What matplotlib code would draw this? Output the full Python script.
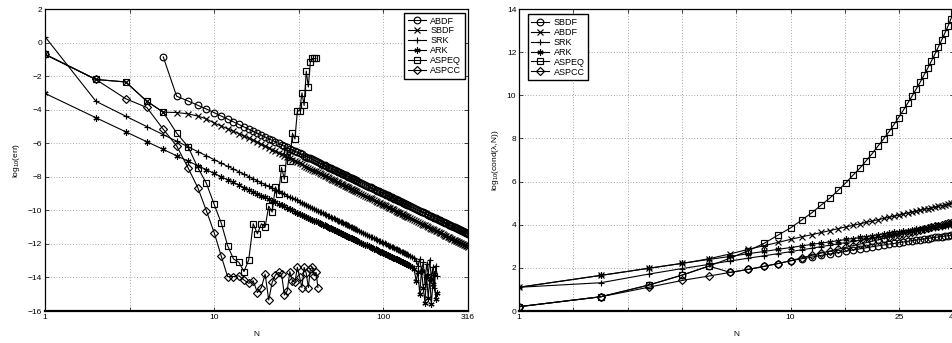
"""Convergence and conditioning of the time-stepping schemes.

Left panel: log10 of the error against N for every scheme.
Right panel: log10 of the condition number of the stage system against N.
"""

import matplotlib
matplotlib.use("Agg")
import matplotlib.pyplot as plt
from matplotlib.ticker import NullLocator

plt.rcParams["font.family"] = ["Liberation Sans", "DejaVu Sans"]
plt.rcParams["mathtext.default"] = "regular"

# ---------------------------------------------------------------- error data
# every N up to 70, then every 2nd / 4th N where the markers run into a band
n_err = list(range(1, 71)) + list(range(72, 141, 2)) + list(range(144, 317, 4))
n_abdf = n_err[4:]                      # ABDF starts at N = 5
n_rk = list(range(1, 71)) + list(range(72, 141, 2)) + list(range(144, 209, 4))
n_speq = list(range(1, 41))
n_spcc = list(range(1, 42))

err_abdf = [
    -0.86, -3.20, -3.48, -3.74, -3.96, -4.18, -4.38, -4.56, -4.73, -4.88,
    -5.03, -5.16, -5.29, -5.41, -5.52, -5.63, -5.73, -5.83, -5.92, -6.01,
    -6.09, -6.18, -6.25, -6.33, -6.40, -6.47, -6.54, -6.61, -6.67, -6.74,
    -6.80, -6.86, -6.91, -6.97, -7.02, -7.08, -7.13, -7.18, -7.23, -7.28,
    -7.32, -7.37, -7.41, -7.46, -7.50, -7.54, -7.58, -7.62, -7.66, -7.70,
    -7.74, -7.78, -7.82, -7.85, -7.89, -7.92, -7.96, -7.99, -8.02, -8.06,
    -8.09, -8.12, -8.15, -8.18, -8.21, -8.24,
    -8.30, -8.36, -8.42, -8.47, -8.52, -8.58, -8.63, -8.67, -8.72, -8.77,
    -8.82, -8.86, -8.90, -8.95, -8.99, -9.03, -9.07, -9.11, -9.15, -9.19,
    -9.23, -9.26, -9.30, -9.34, -9.37, -9.41, -9.44, -9.47, -9.51, -9.54,
    -9.57, -9.60, -9.63, -9.66, -9.69,
    -9.75, -9.81, -9.86, -9.92, -9.97, -10.02, -10.07, -10.12, -10.17, -10.22,
    -10.26, -10.31, -10.35, -10.40, -10.44, -10.48, -10.52, -10.56, -10.60, -10.64,
    -10.67, -10.71, -10.75, -10.78, -10.82, -10.85, -10.89, -10.92, -10.95, -10.99,
    -11.02, -11.05, -11.08, -11.11, -11.14, -11.17, -11.20, -11.23, -11.26, -11.29,
    -11.31, -11.34, -11.37, -11.39,
]

err_sbdf = [
    -0.70, -2.20, -2.35, -3.50, -4.15, -4.17, -4.25, -4.38, -4.55, -4.80,
    -4.97, -5.14, -5.29, -5.43, -5.57, -5.70, -5.83, -5.95, -6.06, -6.17,
    -6.28, -6.38, -6.48, -6.57, -6.66, -6.75, -6.83, -6.91, -6.98, -7.06,
    -7.13, -7.20, -7.26, -7.33, -7.39, -7.45, -7.51, -7.57, -7.63, -7.68,
    -7.73, -7.79, -7.84, -7.89, -7.94, -7.98, -8.03, -8.08, -8.12, -8.17,
    -8.21, -8.25, -8.29, -8.33, -8.37, -8.41, -8.45, -8.49, -8.52, -8.56,
    -8.60, -8.63, -8.67, -8.70, -8.73, -8.77, -8.80, -8.83, -8.86, -8.90,
    -8.96, -9.02, -9.07, -9.13, -9.19, -9.24, -9.29, -9.34, -9.39, -9.44,
    -9.49, -9.54, -9.58, -9.63, -9.67, -9.71, -9.76, -9.80, -9.84, -9.88,
    -9.92, -9.95, -9.99, -10.03, -10.07, -10.10, -10.14, -10.17, -10.21, -10.24,
    -10.27, -10.31, -10.34, -10.37, -10.40,
    -10.46, -10.52, -10.58, -10.64, -10.69, -10.74, -10.80, -10.85, -10.90, -10.95,
    -10.99, -11.04, -11.09, -11.13, -11.18, -11.22, -11.26, -11.30, -11.34, -11.38,
    -11.42, -11.46, -11.50, -11.53, -11.57, -11.61, -11.64, -11.68, -11.71, -11.75,
    -11.78, -11.81, -11.84, -11.87, -11.91, -11.94, -11.97, -12.00, -12.03, -12.06,
    -12.08, -12.11, -12.14, -12.17,
]

err_srk = [
    0.35, -3.50, -4.39, -5.01, -5.49, -5.88, -6.21, -6.50, -6.75, -6.98,
    -7.19, -7.37, -7.54, -7.70, -7.85, -7.99, -8.12, -8.24, -8.36, -8.47,
    -8.57, -8.67, -8.77, -8.86, -8.95, -9.03, -9.12, -9.19, -9.27, -9.34,
    -9.41, -9.48, -9.55, -9.61, -9.67, -9.73, -9.79, -9.85, -9.91, -9.96,
    -10.01, -10.07, -10.12, -10.17, -10.21, -10.26, -10.31, -10.35, -10.40, -10.44,
    -10.48, -10.52, -10.57, -10.61, -10.65, -10.68, -10.72, -10.76, -10.80, -10.83,
    -10.87, -10.90, -10.94, -10.97, -11.00, -11.04, -11.07, -11.10, -11.13, -11.16,
    -11.22, -11.28, -11.34, -11.40, -11.45, -11.50, -11.56, -11.61, -11.66, -11.70,
    -11.75, -11.80, -11.84, -11.89, -11.93, -11.97, -12.01, -12.06, -12.10, -12.13,
    -12.17, -12.21, -12.25, -12.29, -12.32, -12.36, -12.39, -12.43, -12.46, -12.49,
    -12.53, -12.56, -12.59, -12.62, -12.65,
    -12.71, -12.77, -12.83, -13.00, -13.30, -12.90, -13.60, -13.10, -14.40, -13.20,
    -13.80, -12.95, -14.10, -13.40, -14.60, -13.30, -13.90,
]

err_ark = [
    -3.03, -4.48, -5.32, -5.91, -6.37, -6.75, -7.06, -7.34, -7.58, -7.80,
    -8.00, -8.18, -8.34, -8.49, -8.64, -8.77, -8.89, -9.01, -9.12, -9.23,
    -9.33, -9.43, -9.52, -9.61, -9.69, -9.77, -9.85, -9.92, -10.00, -10.07,
    -10.13, -10.20, -10.26, -10.32, -10.38, -10.44, -10.50, -10.55, -10.61, -10.66,
    -10.71, -10.76, -10.81, -10.86, -10.90, -10.95, -10.99, -11.04, -11.08, -11.12,
    -11.16, -11.20, -11.24, -11.28, -11.32, -11.35, -11.39, -11.43, -11.46, -11.50,
    -11.53, -11.56, -11.60, -11.63, -11.66, -11.69, -11.72, -11.75, -11.78, -11.81,
    -11.87, -11.93, -11.98, -12.04, -12.09, -12.14, -12.19, -12.24, -12.29, -12.33,
    -12.38, -12.42, -12.47, -12.51, -12.55, -12.59, -12.63, -12.67, -12.71, -12.75,
    -12.78, -12.82, -12.86, -12.89, -12.93, -12.96, -12.99, -13.03, -13.06, -13.09,
    -13.12, -13.15, -13.18, -13.21, -13.24,
    -13.30, -13.36, -13.50, -14.20, -13.70, -15.00, -13.60, -14.60, -15.50, -13.90,
    -15.20, -14.10, -15.60, -14.40, -13.80, -15.30, -14.90,
]

err_aspeq = [
    -0.70, -2.20, -2.35, -3.50, -4.15, -5.40, -6.20, -7.45, -8.40, -9.65,
    -10.75, -12.10, -12.90, -13.10, -13.65, -12.95, -10.80, -11.40, -10.80, -11.00,
    -9.75, -10.10, -8.60, -9.00, -7.45, -8.15, -6.45, -7.05, -5.40, -5.75,
    -4.10, -4.05, -3.00, -3.75, -1.70, -2.65, -1.15, -0.95, -0.95, -0.95,
]

err_aspcc = [
    -0.70, -2.20, -3.35, -3.87, -5.17, -6.16, -7.46, -8.65, -10.04, -11.33,
    -12.72, -13.95, -13.95, -13.90, -14.15, -14.35, -14.20, -14.90, -14.60, -13.80,
    -15.35, -14.30, -13.85, -13.70, -13.80, -15.05, -14.80, -13.65, -14.20, -14.30,
    -13.40, -14.00, -14.60, -13.40, -13.75, -14.60, -13.50, -13.40, -13.90, -13.70,
    -14.60,
]

# ---------------------------------------------------------- condition data
n_cond = list(range(1, 41))

cond_sbdf = [
    0.20, 0.66, 1.20, 1.67, 2.08, 1.79, 1.93, 2.07, 2.20, 2.33,
    2.42, 2.50, 2.58, 2.65, 2.71, 2.77, 2.83, 2.88, 2.93, 2.98,
    3.02, 3.06, 3.10, 3.13, 3.17, 3.20, 3.23, 3.26, 3.29, 3.31,
    3.34, 3.36, 3.39, 3.41, 3.43, 3.45, 3.47, 3.49, 3.51, 3.53,
]
cond_abdf = [
    1.10, 1.65, 1.98, 2.21, 2.42, 2.65, 2.86, 3.03, 3.18, 3.32,
    3.44, 3.54, 3.64, 3.73, 3.82, 3.90, 3.97, 4.04, 4.11, 4.17,
    4.23, 4.29, 4.34, 4.39, 4.44, 4.49, 4.54, 4.58, 4.62, 4.67,
    4.71, 4.74, 4.78, 4.82, 4.85, 4.89, 4.92, 4.96, 4.99, 5.02,
]
cond_srk = [
    1.10, 1.31, 1.71, 1.97, 2.16, 2.32, 2.45, 2.56, 2.66, 2.75,
    2.84, 2.91, 2.99, 3.05, 3.12, 3.17, 3.23, 3.28, 3.33, 3.38,
    3.42, 3.46, 3.50, 3.54, 3.58, 3.61, 3.65, 3.68, 3.71, 3.74,
    3.77, 3.80, 3.83, 3.86, 3.88, 3.91, 3.93, 3.96, 3.98, 4.00,
]
cond_ark = [
    1.10, 1.65, 1.98, 2.21, 2.39, 2.53, 2.66, 2.76, 2.86, 2.94,
    3.02, 3.09, 3.15, 3.21, 3.26, 3.32, 3.36, 3.41, 3.45, 3.49,
    3.53, 3.57, 3.61, 3.64, 3.67, 3.70, 3.73, 3.76, 3.79, 3.82,
    3.84, 3.87, 3.89, 3.92, 3.94, 3.96, 3.99, 4.01, 4.03, 4.05,
]
cond_aspeq = [
    0.20, 0.66, 1.20, 1.67, 2.08, 2.45, 2.80, 3.14, 3.52, 3.85,
    4.22, 4.56, 4.92, 5.25, 5.60, 5.95, 6.30, 6.62, 6.97, 7.30,
    7.65, 7.97, 8.30, 8.63, 8.97, 9.30, 9.63, 9.95, 10.28, 10.60,
    10.93, 11.25, 11.58, 11.90, 12.23, 12.55, 12.88, 13.20, 13.55, 13.88,
]
cond_aspcc = [
    0.20, 0.66, 1.10, 1.42, 1.62, 1.79, 1.93, 2.07, 2.20, 2.33,
    2.47, 2.58, 2.69, 2.78, 2.87, 2.95, 3.03, 3.10, 3.17, 3.24,
    3.30, 3.36, 3.42, 3.47, 3.52, 3.57, 3.62, 3.67, 3.71, 3.76,
    3.80, 3.84, 3.88, 3.92, 3.96, 3.99, 4.03, 4.06, 4.09, 4.13,
]

# marker per scheme, MATLAB-like open symbols
MARKERS = {
    "o": dict(marker="o", ms=4.8),
    "x": dict(marker="x", ms=3.8),
    "+": dict(marker="+", ms=4.8),
    "*": dict(marker=(6, 2, 0), ms=4.4),
    "s": dict(marker="s", ms=4.4),
    "d": dict(marker="D", ms=3.8),
}
FS = 6


def draw(ax, n, vals, sym, label):
    ax.plot(n, vals, color="k", lw=0.8, mfc="none", mec="k", mew=0.85,
            label=label, **MARKERS[sym])


def style(ax, xlim, xticks, xlabels, ylim, yticks):
    ax.set_xscale("log")
    ax.set_xlim(*xlim)
    ax.set_xticks(xticks)
    ax.set_xticklabels(xlabels)
    ax.xaxis.set_minor_locator(NullLocator())
    ax.set_ylim(*ylim)
    ax.set_yticks(yticks)
    ax.set_axisbelow(True)
    ax.grid(True, linestyle=(0, (1, 3)), lw=0.5, color="0.35")
    ax.tick_params(direction="in", top=True, right=True, length=3, width=0.5,
                   labelsize=FS, pad=2)
    for side in ("left", "top", "right"):
        ax.spines[side].set_linewidth(0.9)
    ax.spines["bottom"].set_linewidth(1.6)
    ax.set_xlabel("N", fontsize=FS, labelpad=7)


def legend(ax, loc, anchor):
    leg = ax.legend(loc=loc, bbox_to_anchor=anchor, fontsize=6.5, fancybox=False,
                    edgecolor="k", framealpha=1, handlelength=2.0, labelspacing=0.1,
                    borderpad=0.4, handletextpad=0.5, borderaxespad=0, numpoints=1)
    leg.get_frame().set_linewidth(1.0)


fig = plt.figure(figsize=(9.53, 3.43), dpi=100)
W, H = 953.0, 343.0

# left: error vs N
ax1 = fig.add_axes([45 / W, 32 / H, 423 / W, 302 / H])
draw(ax1, n_abdf, err_abdf, "o", "ABDF")
draw(ax1, n_err, err_sbdf, "x", "SBDF")
draw(ax1, n_rk, err_srk, "+", "SRK")
draw(ax1, n_rk, err_ark, "*", "ARK")
draw(ax1, n_speq, err_aspeq, "s", "ASPEQ")
draw(ax1, n_spcc, err_aspcc, "d", "ASPCC")
style(ax1, (1, 10 ** 2.5),
      [1, 10 ** 0.5, 10, 10 ** 1.5, 100, 10 ** 2.5],
      ["1", "", "10", "", "100", "316"],
      (-16, 2), list(range(-16, 3, 2)))
ax1.set_ylabel("log$_{10}$(err)", fontsize=FS, labelpad=4)
legend(ax1, "upper right", (0.993, 0.987))

# right: condition number vs N
ax2 = fig.add_axes([519 / W, 32 / H, 435 / W, 302 / H])
draw(ax2, n_cond, cond_sbdf, "o", "SBDF")
draw(ax2, n_cond, cond_abdf, "x", "ABDF")
draw(ax2, n_cond, cond_srk, "+", "SRK")
draw(ax2, n_cond, cond_ark, "*", "ARK")
draw(ax2, n_cond, cond_aspeq, "s", "ASPEQ")
draw(ax2, n_cond, cond_aspcc, "d", "ASPCC")
style(ax2, (1, 40),
      [10 ** (k / 5) for k in range(9)],
      ["1", "", "", "", "", "10", "", "25", "40"],
      (0, 14), list(range(0, 15, 2)))
ax2.set_ylabel("log$_{10}$(cond(λ,N))", fontsize=FS, labelpad=4)
legend(ax2, "upper left", (0.02, 0.982))

fig.savefig("out.png", dpi=100)
